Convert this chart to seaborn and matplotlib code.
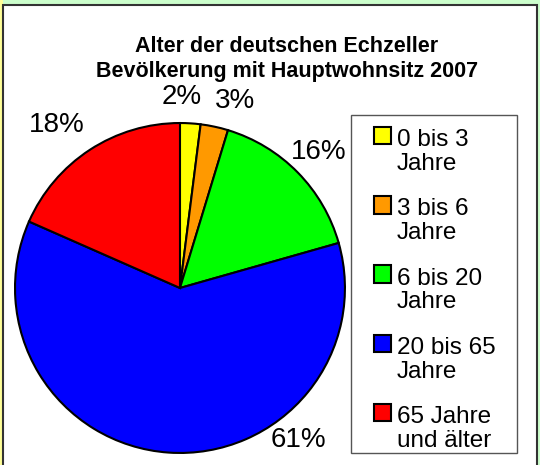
import matplotlib
matplotlib.use("Agg")
import matplotlib.pyplot as plt
import seaborn as sns
import numpy as np
from matplotlib.patches import Rectangle
from matplotlib.legend_handler import HandlerBase

# data
age_groups = ["0 bis 3\nJahre", "3 bis 6\nJahre", "6 bis 20\nJahre",
              "20 bis 65\nJahre", "65 Jahre\nund älter"]
shares = [2.0, 2.7, 15.9, 61.0, 18.4]
colors = ["#FFFF00", "#FF9900", "#00FF00", "#0000FF", "#FF0000"]
title = "Alter der deutschen Echzeller\nBevölkerung mit Hauptwohnsitz 2007"

sns.set_theme(style="white")
plt.rcParams["font.family"] = ["Liberation Sans", "DejaVu Sans"]
plt.rcParams["text.color"] = "black"


class TopSquareHandler(HandlerBase):
    # square marker aligned with the first line of a two-line label
    def create_artists(self, legend, orig_handle, xdescent, ydescent,
                       width, height, fontsize, trans):
        size = 0.72 * fontsize
        rect = Rectangle((-xdescent - 0.05 * fontsize, 0.66 * fontsize), size, size,
                         facecolor=orig_handle.get_facecolor(),
                         edgecolor="black", linewidth=1.5, transform=trans)
        return [rect]


def polar(angle_deg, r):
    a = np.deg2rad(angle_deg)
    return (r * np.cos(a), r * np.sin(a))


fig = plt.figure(figsize=(5.4, 4.65), dpi=100, facecolor="#CCFFCC")

# white chart area with dark frame
fig.patches.append(Rectangle((0, 0), 0.0056, 1, transform=fig.transFigure,
                             facecolor="#FFFF99", edgecolor="none", zorder=-2))
fig.patches.append(Rectangle((0.0056, -0.01), 0.9888, 0.999, transform=fig.transFigure,
                             facecolor="white", edgecolor="#333333",
                             linewidth=1.5, zorder=-1))

ax = fig.add_axes([0.0278, 0.0258, 0.611, 0.7097])
ax.patch.set_alpha(0)
wedges, texts, autotexts = ax.pie(
    shares, colors=colors, startangle=90, counterclock=False,
    autopct="%.0f%%", pctdistance=1.18,
    wedgeprops=dict(edgecolor="black", linewidth=1.5),
    textprops=dict(fontsize=20, color="black"),
)
# label placement as in the Excel original
autotexts[0].set_position(polar(89.4, 1.155))
autotexts[1].set_position(polar(73.6, 1.18))
autotexts[3].set_position(polar(-52, 1.17))
autotexts[4].set_position(polar(127, 1.24))
ax.set_xlim(-1, 1)
ax.set_ylim(-1, 1)
ax.set_aspect("equal")

fig.text(0.531, 0.874, title, ha="center", va="center", color="black",
         fontsize=15.5, fontweight="bold", linespacing=1.25)

leg = fig.legend(wedges, age_groups, loc="upper left",
                 bbox_to_anchor=(0.6944, 0.7224), bbox_transform=fig.transFigure,
                 borderaxespad=0, borderpad=0, frameon=False,
                 fontsize=17.5,
                 handler_map={w: TopSquareHandler() for w in wedges},
                 handlelength=0.7, handletextpad=0.2, labelspacing=0.97)
for t in leg.get_texts():
    t.set_linespacing(1.1)
    t.set_color("black")

# Excel-style box round the legend, padded unevenly like the original
fig.canvas.draw()
bb = leg.get_window_extent().transformed(fig.transFigure.inverted())
W, H = 540, 465
pad_l, pad_r, pad_t, pad_b = 24 / W, 22 / W, 14 / H, 1 / H
fig.patches.append(Rectangle((bb.x0 - pad_l, bb.y0 - pad_b),
                             bb.width + pad_l + pad_r, bb.height + pad_t + pad_b,
                             transform=fig.transFigure, facecolor="white",
                             edgecolor="#555555", linewidth=1.0, zorder=-0.5))

fig.savefig("out.png", dpi=100, facecolor=fig.get_facecolor())
